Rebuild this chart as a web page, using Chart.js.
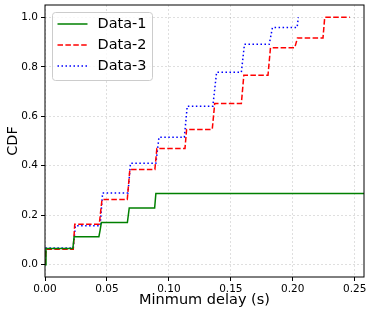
<!DOCTYPE html>
<html lang="en">
<head>
    <meta charset="UTF-8">
    <title>CDF of minimum delay</title>
    <script src="https://cdn.jsdelivr.net/npm/chart.js"></script>
    <style>
        body { margin: 0; background: #fff; }
    </style>
</head>
<body>
    <canvas id="cdfChart" width="374" height="316"></canvas>
    <script>
        // step points: delay (s) and CDF value
        const seriesNames = ['Data-1', 'Data-2', 'Data-3'];
        const seriesColors = ['#008000', '#ff0000', '#0000ff'];

        const data1Delay = [0, 0.0008, 0.0225, 0.0235, 0.0435, 0.0445, 0.0455, 0.0665, 0.068, 0.0885, 0.0895, 0.26];
        const data1Cdf = [0, 0.065, 0.065, 0.113, 0.113, 0.14, 0.17, 0.17, 0.229, 0.229, 0.288, 0.288];

        const data2Delay = [0, 0.0008, 0.0228, 0.024, 0.0438, 0.046, 0.0664, 0.0685, 0.0887, 0.0903, 0.113, 0.1143,
            0.135, 0.137, 0.1585, 0.1605, 0.180, 0.182, 0.2016, 0.2038, 0.2244, 0.2258, 0.246];
        const data2Cdf = [0, 0.062, 0.062, 0.163, 0.163, 0.263, 0.263, 0.385, 0.385, 0.47, 0.47, 0.547,
            0.547, 0.652, 0.652, 0.766, 0.766, 0.877, 0.877, 0.917, 0.917, 1.0, 1.0];

        const data3Delay = [0, 0.0008, 0.0228, 0.0245, 0.0445, 0.0465, 0.067, 0.069, 0.0895, 0.092, 0.1125, 0.1148,
            0.1355, 0.1385, 0.1585, 0.161, 0.181, 0.1836, 0.2035, 0.2045];
        const data3Cdf = [0, 0.067, 0.067, 0.157, 0.157, 0.29, 0.29, 0.41, 0.41, 0.515, 0.515, 0.641,
            0.641, 0.778, 0.778, 0.891, 0.891, 0.959, 0.959, 1.0];

        const xTicks = [0, 0.05, 0.10, 0.15, 0.20, 0.25];
        const yTicks = [0, 0.2, 0.4, 0.6, 0.8, 1.0];

        const toPoints = (xs, ys) => xs.map((x, i) => ({ x: x, y: ys[i] }));
        const dashes = [[], [5.5, 2.4], [1.5, 2.5]];

        Chart.defaults.font.family = "'DejaVu Sans', sans-serif";
        Chart.defaults.color = '#000';

        // spines + matplotlib-style legend inside the axes
        const framePlugin = {
            id: 'framePlugin',
            afterDatasetsDraw(chart) {
                const ctx = chart.ctx;
                const a = chart.chartArea;
                ctx.save();
                ctx.strokeStyle = '#000';
                ctx.lineWidth = 1;
                ctx.strokeRect(a.left, a.top, a.right - a.left, a.bottom - a.top);

                const bx = a.left + 7.5, by = a.top + 7.5, bw = 100, bh = 68;
                ctx.beginPath();
                ctx.roundRect(bx, by, bw, bh, 3);
                ctx.fillStyle = 'rgba(255,255,255,0.8)';
                ctx.fill();
                ctx.strokeStyle = '#cccccc';
                ctx.stroke();

                ctx.font = '14.5px "DejaVu Sans"';
                ctx.textBaseline = 'middle';
                chart.data.datasets.forEach((ds, i) => {
                    const ry = by + 11.5 + i * 21;
                    ctx.strokeStyle = ds.borderColor;
                    ctx.lineWidth = 1.5;
                    ctx.setLineDash(ds.borderDash);
                    ctx.beginPath();
                    ctx.moveTo(bx + 5, ry);
                    ctx.lineTo(bx + 35, ry);
                    ctx.stroke();
                    ctx.setLineDash([]);
                    ctx.fillStyle = '#000';
                    ctx.fillText(ds.label, bx + 45, ry + 0.5);
                });
                ctx.restore();
            }
        };

        const gridOpts = {
            color: 'rgba(0,0,0,0.16)',
            lineWidth: 0.8,
            tickColor: '#000',
            tickLength: 4,
            tickWidth: 1,
            tickBorderDash: []
        };

        new Chart(document.getElementById('cdfChart'), {
            type: 'line',
            data: {
                datasets: [
                    { label: seriesNames[0], data: toPoints(data1Delay, data1Cdf) },
                    { label: seriesNames[1], data: toPoints(data2Delay, data2Cdf) },
                    { label: seriesNames[2], data: toPoints(data3Delay, data3Cdf) }
                ].map((ds, i) => Object.assign(ds, {
                    borderColor: seriesColors[i],
                    borderWidth: 1.5,
                    borderDash: dashes[i],
                    pointRadius: 0,
                    tension: 0,
                    fill: false
                }))
            },
            options: {
                responsive: false,
                animation: false,
                layout: { padding: { top: 5, right: 10, left: 0, bottom: 0 } },
                plugins: {
                    legend: { display: false },
                    tooltip: { enabled: false }
                },
                scales: {
                    x: {
                        type: 'linear',
                        min: 0,
                        max: 0.2575,
                        afterBuildTicks: s => { s.ticks = xTicks.map(v => ({ value: v })); },
                        afterFit: s => { s.height = 39; s.paddingLeft = 0; s.paddingRight = 0; },
                        ticks: {
                            callback: v => v.toFixed(2),
                            font: { size: 10.5 },
                            padding: 2,
                            maxRotation: 0,
                            autoSkip: false
                        },
                        grid: gridOpts,
                        border: { display: false, dash: [2, 2] },
                        title: {
                            display: true,
                            text: 'Minmum delay (s)',
                            font: { size: 14.5 },
                            padding: { top: 0, bottom: 7 }
                        }
                    },
                    y: {
                        min: -0.05,
                        max: 1.05,
                        afterBuildTicks: s => { s.ticks = yTicks.map(v => ({ value: v })); },
                        afterFit: s => { s.width = 45; s.paddingTop = 0; s.paddingBottom = 0; },
                        ticks: {
                            callback: v => v.toFixed(1),
                            font: { size: 10.5 },
                            padding: 3
                        },
                        grid: gridOpts,
                        border: { display: false, dash: [2, 2] },
                        title: {
                            display: true,
                            text: 'CDF',
                            font: { size: 14.5 },
                            padding: { top: 5, bottom: 0 }
                        }
                    }
                }
            },
            plugins: [framePlugin]
        });
    </script>
</body>
</html>
